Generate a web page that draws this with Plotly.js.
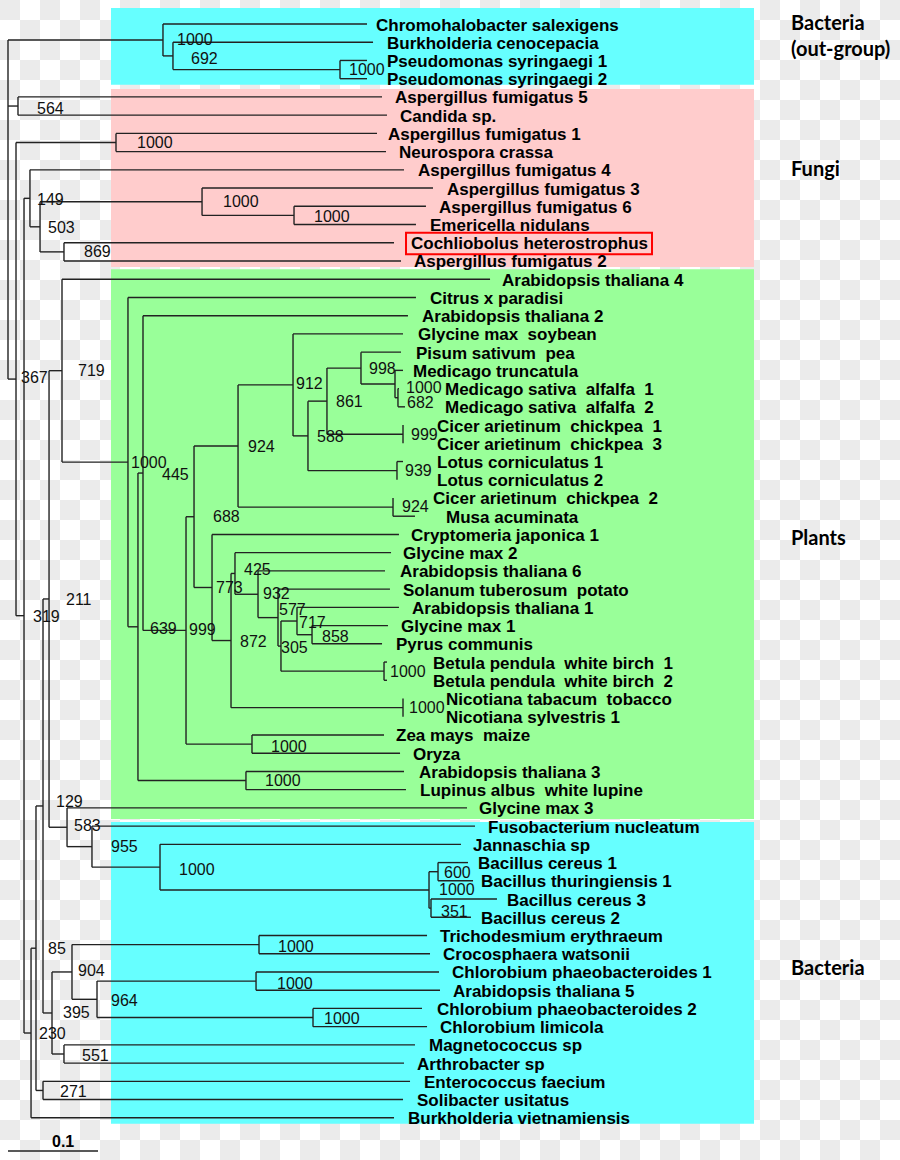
<!DOCTYPE html>
<html><head><meta charset="utf-8">
<script src="https://cdn.plot.ly/plotly-3.0.1.min.js"></script>
<style>
html,body{margin:0;padding:0;background:#fff;}
#chart{width:900px;height:1160px;}
</style></head><body><div id="chart"></div>
<script>
// ---------------- DATA ----------------
const leafNames = [
"Chromohalobacter salexigens","Burkholderia cenocepacia","Pseudomonas syringaegi 1","Pseudomonas syringaegi 2",
"Aspergillus fumigatus 5","Candida sp.","Aspergillus fumigatus 1","Neurospora crassa","Aspergillus fumigatus 4",
"Aspergillus fumigatus 3","Aspergillus fumigatus 6","Emericella nidulans","Cochliobolus heterostrophus","Aspergillus fumigatus 2",
"Arabidopsis thaliana 4","Citrus x paradisi","Arabidopsis thaliana 2","Glycine max\u00a0 soybean","Pisum sativum\u00a0 pea",
"Medicago truncatula","Medicago sativa\u00a0 alfalfa\u00a0 1","Medicago sativa\u00a0 alfalfa\u00a0 2",
"Cicer arietinum\u00a0 chickpea\u00a0 1","Cicer arietinum\u00a0 chickpea\u00a0 3","Lotus corniculatus 1","Lotus corniculatus 2",
"Cicer arietinum\u00a0 chickpea\u00a0 2","Musa acuminata","Cryptomeria japonica 1","Glycine max 2","Arabidopsis thaliana 6",
"Solanum tuberosum\u00a0 potato","Arabidopsis thaliana 1","Glycine max 1","Pyrus communis",
"Betula pendula\u00a0 white birch\u00a0 1","Betula pendula\u00a0 white birch\u00a0 2","Nicotiana tabacum\u00a0 tobacco",
"Nicotiana sylvestris 1","Zea mays\u00a0 maize","Oryza","Arabidopsis thaliana 3","Lupinus albus\u00a0 white lupine","Glycine max 3",
"Fusobacterium nucleatum","Jannaschia sp","Bacillus cereus 1","Bacillus thuringiensis 1","Bacillus cereus 3","Bacillus cereus 2",
"Trichodesmium erythraeum","Crocosphaera watsonii","Chlorobium phaeobacteroides 1","Arabidopsis thaliana 5",
"Chlorobium phaeobacteroides 2","Chlorobium limicola","Magnetococcus sp","Arthrobacter sp","Enterococcus faecium",
"Solibacter usitatus","Burkholderia vietnamiensis"];

// distance of each leaf tip from the root
const leafDepth = [
0.3989,0.4056,0.3989,0.3989,
0.4156,0.4211,0.4100,0.4200,0.4400,0.4722,0.4644,0.4533,0.4289,0.4367,
0.5356,0.4533,0.4444,0.4389,0.4367,0.4389,0.4344,0.4411,0.4389,0.4389,0.4389,0.4322,0.4278,0.4522,
0.4344,0.4256,0.4189,0.4244,0.4344,0.4222,0.4156,0.4211,0.4211,0.4389,0.4389,0.4178,0.4356,0.4400,0.4422,0.5100,
0.5189,0.5033,0.5111,0.5167,0.5433,0.5144,0.4656,0.4689,0.4789,0.4800,0.4600,0.4656,0.4522,0.4400,0.4467,0.4389,0.4289];

// internal nodes: id, depth from root, bootstrap support, children (leaf index or node id)
const nodeIds = ["R","nOut","n692","nPS","n564","n367","nAF1","n319","n149","n503","nAF3","nAF6","n869",
"n230","n85","n129","n211","n719","nPl","n639","n445","n999","n688","n924","n912","n588","n861","n998","nMedA","nMedB",
"nCic13","nLotus","nCic2","n773","n872","n425","n932","n577","n305","n717","n858","nBet","nNic","nZea","nAT3",
"n583","n955","nJan","nBac","nB600","nB351","n395","n904","nTri","n964","nCP1","nCP2","n551","n271"];
const nodeDepth = [0,0.1722,0.1833,0.3689,0.0111,0.0089,0.1200,0.0178,0.0244,0.0356,0.2156,0.3178,0.0622,
0.0256,0.0311,0.0389,0.0456,0.0600,0.1333,0.1444,0.1500,0.1978,0.2067,0.2556,0.3167,0.3333,0.3544,0.3922,0.4300,0.4333,
0.4389,0.4322,0.4278,0.2267,0.2478,0.2522,0.2778,0.3000,0.3033,0.3211,0.3378,0.4178,0.4389,0.2711,0.2644,
0.0656,0.0933,0.1689,0.4678,0.4778,0.4700,0.0489,0.0711,0.2789,0.0989,0.2756,0.3389,0.0622,0.0389];
const nodeSupport = [null,1000,692,1000,564,367,1000,319,149,503,1000,1000,869,
230,85,129,211,719,1000,639,445,999,688,924,912,588,861,998,1000,682,
999,939,924,773,872,425,932,577,305,717,858,1000,1000,1000,1000,
583,955,1000,1000,600,351,395,904,1000,964,1000,1000,551,271];
const nodeKids = [["nOut","n564","n367"],[0,"n692"],[1,"nPS"],[2,3],[4,5],["nAF1","n319"],[6,7],["n149","n230"],[8,"n503"],
["nAF3","n869"],[9,"nAF6"],[10,11],[12,13],
[ "n85",60],["n129","n271"],["n211","n395"],["n719","n583"],[14,"nPl"],[15,"n639"],["n445","nAT3"],[16,"n999"],
["n688","nZea"],["n924","n773"],["n912","nCic2"],[17,"n588"],["n861","nLotus"],["n998","nCic13"],[18,"nMedA"],[19,"nMedB"],[20,21],
[22,23],[24,25],[26,27],[28,"n872"],["n425","nNic"],[29,"n932"],[30,"n577"],[31,"n305"],["n717","nBet"],[32,"n858"],[33,34],
[35,36],[37,38],[39,40],[41,42],
[43,"n955"],[44,"nJan"],[45,"nBac"],["nB600","nB351"],[46,47],[48,49],["n904","n551"],["nTri","n964"],[50,51],
["nCP1","nCP2"],[52,53],[54,55],[56,57],[58,59]];

const groupTitles = ["Bacteria<br>(out-group)","Fungi","Plants","Bacteria"];
const groupFirstLeaf = [0,4,14,44];
const groupLastLeaf = [3,13,43,60];
const scaleBarLength = 0.1;

// ---------------- LAYOUT HELPERS (pixels) ----------------
const PXU = 900;          // pixels per distance unit
const ROOTPX = 8;         // root at this pixel column
const ROW = 18.23, ROW0 = 24; // leaf row spacing & first row centre
// gap between tip and name (px)
const nameGap = [9,14,20,20,13,13,11,13,14,14,13,14,17,13,12,14,14,15,15,10,46,40,34,34,34,40,40,31,12,12,15,13,13,13,14,46,46,43,43,12,13,15,14,12,
13,12,10,8,10,10,13,13,13,13,15,13,14,13,14,14,14];
// bootstrap label offsets (px) from node
const supDX = [0,13,17,8,18,4,20,8,6,7,20,19,19,7,11,12,16,15,2,11,18,2,18,9,2,8,8,7,10,8,7,7,8,3,8,8,4,0,-1,1,9,5,5,18,18,6,18,18,9,5,9,10,5,18,13,20,10,17,16];
const supDY = [0,0,3,0,2,-2,0,1,1,1,0,1,0,0,0,-4,1,0,0,2,1,-1,0,0,-1,1,0,0,3,5,0,0,-1,0,1,-4,-1,-8,1,1,2,0,0,2,0,-2,0,2,0,1,3,0,-1,2,1,2,1,1,1];
const groupColors = ["#66ffff","#ffcccc","#99ff99","#66ffff"];
const groupPadTop = [16,8,10,4];   // px above first leaf row
const groupPadBot = [6,6,11,6];    // px below last leaf row
const groupTitleY = [35,168,537,967];

const pxToRow = p => (p-ROW0)/ROW;

// ---------------- BUILD TREE ----------------
const idx = {}; nodeIds.forEach((id,i)=>idx[id]=i);
const yMemo = {};
function yOf(k){
  if(typeof k==='number') return k;
  if(yMemo[k]===undefined){ const kids=nodeKids[idx[k]]; yMemo[k]=(yOf(kids[0])+yOf(kids[kids.length-1]))/2; }
  return yMemo[k];
}
function xOf(k){ return typeof k==='number' ? leafDepth[k] : nodeDepth[idx[k]]; }

const lx=[], ly=[];
nodeIds.forEach((id,i)=>{
  const kids=nodeKids[i], x=nodeDepth[i];
  lx.push(x,x,null); ly.push(yOf(kids[0]),yOf(kids[kids.length-1]),null);
  kids.forEach(k=>{ lx.push(x,xOf(k),null); ly.push(yOf(k),yOf(k),null); });
});

const traces=[{type:'scatter',mode:'lines',x:lx,y:ly,hoverinfo:'skip',
  line:{color:'#222',width:1.4,simplify:false},showlegend:false},
  {type:'scatter',mode:'lines',x:[0,scaleBarLength],y:[pxToRow(1151),pxToRow(1151)],hoverinfo:'skip',
  line:{color:'#222',width:1.4},showlegend:false}];

const ann=[];
leafNames.forEach((n,i)=>{
  ann.push({x:leafDepth[i]+(nameGap[i]-2)/PXU,y:i,text:n,xanchor:'left',yanchor:'middle',showarrow:false,yshift:-1,
    font:{family:'Liberation Sans, Arial, sans-serif',size:17,weight:'bold',color:'#000'}});
});
nodeIds.forEach((id,i)=>{
  if(nodeSupport[i]==null) return;
  ann.push({x:nodeDepth[i]+(supDX[i]-1)/PXU,y:yOf(id),yshift:-supDY[i],text:String(nodeSupport[i]),xanchor:'left',yanchor:'middle',
    showarrow:false,font:{family:'Liberation Sans, Arial, sans-serif',size:16,color:'#111'}});
});
groupTitles.forEach((t,g)=>{
  ann.push({xref:'paper',x:789/900,y:pxToRow(groupTitleY[g]),text:t,xanchor:'left',yanchor:'middle',align:'left',showarrow:false,
    font:{family:'Lato, Open Sans, sans-serif',size:20,weight:'bold',color:'#000'}});
});
ann.push({x:(63-ROOTPX)/PXU,y:pxToRow(1141),text:String(scaleBarLength),showarrow:false,xanchor:'center',yanchor:'middle',
  font:{family:'Liberation Sans, Arial, sans-serif',size:16,weight:'bold',color:'#000'}});

const shapes=[];
groupTitles.forEach((t,g)=>{
  shapes.push({type:'rect',layer:'below',xref:'paper',x0:111/900,x1:754/900,
    y0:groupFirstLeaf[g]-groupPadTop[g]/ROW,y1:groupLastLeaf[g]+groupPadBot[g]/ROW,
    fillcolor:groupColors[g],line:{width:0}});
});
// highlight box around Cochliobolus heterostrophus
const hi=12;
shapes.push({type:'rect',x0:leafDepth[hi]+(nameGap[hi]-5)/PXU,x1:leafDepth[hi]+(nameGap[hi]+241)/PXU,
  y0:hi-10/ROW,y1:hi+11.5/ROW,line:{color:'#ff0000',width:2},fillcolor:'rgba(0,0,0,0)'});

// transparency checkerboard backdrop (as in the source image)
const checker = "<svg xmlns='http://www.w3.org/2000/svg' width='900' height='1160'><defs><pattern id='p' width='40' height='40' patternUnits='userSpaceOnUse'>"+
 "<rect width='40' height='40' fill='#ffffff'/><rect width='20' height='20' fill='#ebebeb'/><rect x='20' y='20' width='20' height='20' fill='#ebebeb'/>"+
 "</pattern></defs><rect width='900' height='1160' fill='url(#p)'/></svg>";
const images=[{source:'data:image/svg+xml;charset=utf-8,'+encodeURIComponent(checker),xref:'paper',yref:'paper',
  x:0,y:1,sizex:1,sizey:1,sizing:'stretch',xanchor:'left',yanchor:'top',layer:'below'}];

const layout={width:900,height:1160,margin:{l:0,r:0,t:0,b:0},paper_bgcolor:'#ffffff',plot_bgcolor:'rgba(0,0,0,0)',
  xaxis:{range:[-ROOTPX/PXU,(900-ROOTPX)/PXU],visible:false,fixedrange:true},
  yaxis:{range:[pxToRow(1160),pxToRow(0)],visible:false,fixedrange:true},
  annotations:ann,shapes:shapes,images:images,showlegend:false};
Plotly.newPlot('chart',traces,layout,{staticPlot:true,displayModeBar:false});
</script></body></html>
